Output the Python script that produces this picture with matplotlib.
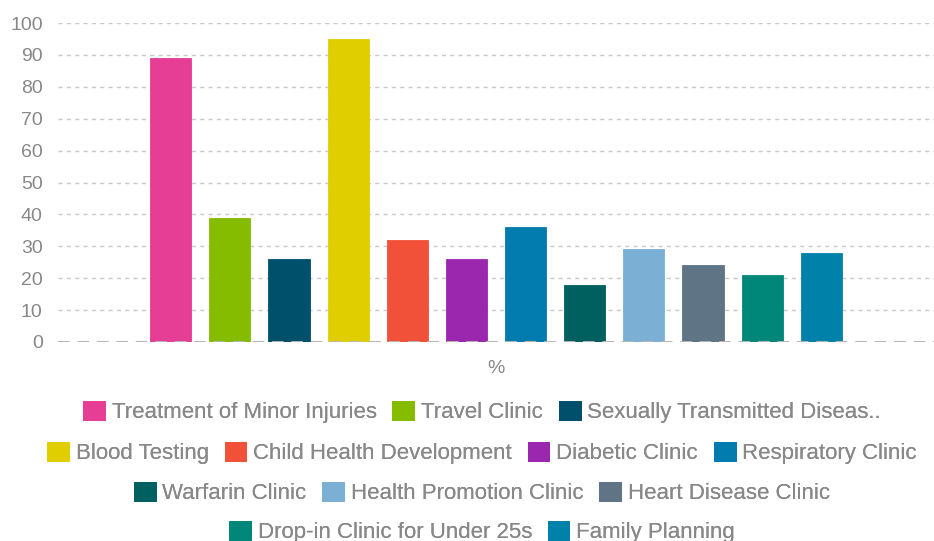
import matplotlib
matplotlib.use("Agg")
import matplotlib.pyplot as plt
import numpy as np

plt.rcParams['font.family'] = ['Liberation Sans', 'DejaVu Sans']

categories = ["%"]
series_names = [
    "Treatment of Minor Injuries", "Travel Clinic", "Sexually Transmitted Diseas..",
    "Blood Testing", "Child Health Development", "Diabetic Clinic", "Respiratory Clinic",
    "Warfarin Clinic", "Health Promotion Clinic", "Heart Disease Clinic",
    "Drop-in Clinic for Under 25s", "Family Planning",
]
values = [89, 39, 26, 95, 32, 26, 36, 18, 29, 24, 21, 28]
colors = [
    "#E63E95", "#86BC00", "#004F6B", "#E1CE00", "#F05138", "#9B27AF", "#027BAE",
    "#00605F", "#7BAFD4", "#5F7586", "#00877A", "#0081AA",
]
yticks = [0, 10, 20, 30, 40, 50, 60, 70, 80, 90, 100]
legend_rows = [[0, 1, 2], [3, 4, 5, 6], [7, 8, 9], [10, 11]]

W, H = 934, 541
fig = plt.figure(figsize=(W / 100, H / 100), dpi=100)
ax = fig.add_axes([58 / W, 1 - 342 / H, (934 - 58) / W, (342 - 23) / H])

n = len(values)
group_w = 0.81
pitch = group_w / n
bar_w = pitch * 0.695
handles = []
for i, (name, v, c) in enumerate(zip(series_names, values, colors)):
    x = (i - (n - 1) / 2) * pitch
    b = ax.bar(x, v, width=bar_w, color=c, edgecolor=c, linewidth=0.6,
               label=name, zorder=2)
    handles.append(b)

ax.set_xlim(-0.5, 0.5)
ax.set_ylim(0, 100)
ax.set_yticks(yticks)
ax.set_yticklabels([str(t) for t in yticks])
ax.set_xticks([0])
ax.set_xticklabels(categories)
ax.tick_params(axis='both', length=0, labelsize=14, colors="#888888")
ax.tick_params(axis='y', pad=11)
ax.tick_params(axis='x', pad=13)
for s in ax.spines.values():
    s.set_visible(False)

for t in yticks[1:]:
    ax.axhline(t, color="#c8c8c8", linewidth=1.0, linestyle=(0, (3, 3)), zorder=1)
ax.axhline(0, color="#b5b5b5", linewidth=1.4, linestyle=(0, (6, 4)), zorder=3)

row_y = [412, 453, 493, 532]
for row, y in zip(legend_rows, row_y):
    leg = fig.legend([handles[i] for i in row], [series_names[i] for i in row],
                     loc='center', bbox_to_anchor=(482 / W, 1 - y / H),
                     ncol=len(row), frameon=False, fontsize=16,
                     handlelength=0.98, handleheight=0.94, handletextpad=0.31,
                     columnspacing=0.71, borderpad=0, borderaxespad=0)
    for txt in leg.get_texts():
        txt.set_color("#888888")
    fig.add_artist(leg)

fig.savefig("out.png", dpi=100)
